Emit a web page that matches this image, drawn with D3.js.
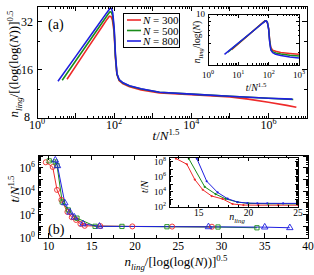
<!DOCTYPE html>
<meta charset="utf-8">
<head>
<script src="https://d3js.org/d3.v7.min.js"></script>
<style>
  body { margin: 0; background: #fff; }
  text { font-family: "Liberation Serif", "Times New Roman", serif; fill: #000; }
</style>
</head>
<body>
<script>
// ---- panel (a): n_ling/[log(log N)]^0.5 vs t/N^1.5
var tRed   = [6, 20, 50, 65, 75, 83, 90, 100, 108, 118, 135, 170, 250, 500, 1500, 1e4, 1e5, 3e5, 1e6, 3e6, 5.3e6];
var nRed   = [14.0, 21.7, 30.2, 33.2, 34.8, 34.6, 33.0, 27.5, 19.0, 15.0, 13.7, 13.1, 12.55, 12.0, 11.5, 11.2, 10.85, 10.5, 10.05, 9.6, 9.35];
var tGreen = [4.5, 10, 30, 60, 70, 78, 85, 92, 100, 108, 118, 135, 170, 250, 500, 1500, 1e4, 1e5, 1e6, 4.4e6];
var nGreen = [13.8, 18.2, 26.7, 34.0, 35.9, 37.1, 36.8, 34.8, 28.5, 19.5, 15.1, 13.85, 13.25, 12.7, 12.15, 11.6, 11.3, 10.95, 10.65, 10.45];
var tBlue  = [3.5, 10, 30, 60, 72, 80, 86, 92, 100, 108, 118, 135, 170, 250, 500, 1500, 1e4, 1e5, 1e6, 4.2e6];
var nBlue  = [13.6, 19.4, 28.2, 35.7, 37.9, 39.2, 38.8, 36.5, 29.5, 20.0, 15.2, 13.9, 13.3, 12.75, 12.2, 11.6, 11.3, 10.95, 10.65, 10.5];
var legendN = ["300", "500", "800"];

// inset (a): n_ling/log(N) vs t/N^1.5
var tInRed   = [6, 20, 50, 65, 75, 83, 90, 100, 108, 118, 135, 170, 250, 500, 1000];
var nInRed   = [3.24, 5.0, 7.0, 7.68, 8.05, 8.03, 7.63, 6.36, 4.4, 3.47, 3.2, 3.08, 2.97, 2.88, 2.8];
var tInGreen = [4.5, 10, 30, 60, 70, 78, 85, 92, 100, 108, 118, 135, 170, 250, 500, 1000];
var nInGreen = [3.0, 3.96, 5.8, 7.4, 7.8, 8.1, 8.0, 7.57, 6.2, 4.24, 3.3, 3.05, 2.93, 2.83, 2.72, 2.65];
var tInBlue  = [3.5, 10, 30, 60, 72, 80, 86, 92, 100, 108, 118, 135, 170, 250, 500, 1000];
var nInBlue  = [2.8, 4.0, 5.8, 7.35, 7.8, 8.1, 8.0, 7.5, 6.1, 4.1, 3.2, 2.95, 2.8, 2.7, 2.58, 2.5];

// ---- panel (b): t/N^1.5 vs n_ling/[log(log N)]^0.5
var xRedB   = [9.7, 10.5, 11.0, 11.5, 12.2, 12.7, 13.2, 13.7, 14.2, 16.0, 19.7, 24.3, 28.9];
var yRedB   = [3.0e6, 1.2e6, 1.3e4, 1.8e3, 170, 60, 35, 16, 11, 10.5, 9.8, 9.5, 9.2];
var xGreenB = [10.1, 10.8, 11.0, 11.6, 12.3, 13.3, 15.4, 18.5, 23.7, 29.6, 34.1];
var yGreenB = [4.0e6, 3.2e6, 1.6e6, 1.2e3, 250, 50, 10, 9.8, 9.2, 8.7, 7.5];
var xBlueB  = [10.8, 11.05, 11.9, 12.5, 13.0, 14.0, 15.9, 28.5, 35.0, 37.9];
var yBlueB  = [4.6e6, 1.5e6, 1.0e3, 160, 60, 16, 10, 9.0, 8.5, 7.5];

// inset (b): t/N vs n_ling
var xInRedB   = [12.7, 13.8, 14.6, 15.4, 16.3, 17.4, 18.4, 19.5, 21.0, 23.0, 25.0];
var yInRedB   = [2.5e8, 4.4e7, 4.2e5, 1.9e4, 2.8e3, 1.15e3, 250, 180, 175, 175, 175];
var xInGreenB = [14.0, 15.6, 16.7, 17.7, 18.9, 20.0, 22.0, 25.0];
var yInGreenB = [2.3e8, 4.6e4, 5.0e3, 1.2e3, 450, 300, 270, 260];
var xInBlueB  = [14.8, 15.8, 16.9, 17.9, 18.9, 19.9, 20.9, 21.9, 23.5, 25.0];
var yInBlueB  = [2.5e8, 2.5e5, 8.3e3, 1.25e3, 450, 330, 310, 305, 300, 300];

var red = "#ee2a2a", green = "#1a8c1a", blue = "#1f1fe0";

var svg = d3.select("body").append("svg").attr("width", 314).attr("height", 275);

// scales
var xa  = d3.scaleLog().domain([1, 1e7]).range([37, 307]);
var ya  = d3.scaleLog().base(2).domain([8, 40.3]).range([118, 6]);
var xai = d3.scaleLog().domain([1, 1000]).range([208, 299]);
var yai = d3.scaleLog().domain([2, 10]).range([65, 14]);
var xb  = d3.scaleLinear().domain([8.8, 40]).range([38, 308]);
var yb  = d3.scaleLog().domain([1, 1.26e7]).range([238, 155]);
var xbi = d3.scaleLinear().domain([12, 25]).range([169, 298]);
var ybi = d3.scaleLog().domain([100, 3.98e8]).range([207, 157]);

function logMinor(lo, hi) {
  var out = [];
  for (var k = Math.floor(Math.log10(lo)); k <= Math.ceil(Math.log10(hi)); k++)
    for (var m = 2; m <= 9; m++) {
      var v = m * Math.pow(10, k);
      if (v > lo && v < hi) out.push(v);
    }
  return out;
}
function decades(lo, hi) {
  var out = [];
  for (var k = Math.ceil(Math.log10(lo) - 1e-9); k <= Math.floor(Math.log10(hi) + 1e-9); k++) out.push(Math.pow(10, k));
  return out;
}

function box(g, x, y) {
  var r = x.range(), s = y.range();
  g.append("rect").attr("x", r[0]).attr("y", s[1]).attr("width", r[1] - r[0]).attr("height", s[0] - s[1])
    .attr("fill", "#fff").attr("stroke", "#000").attr("stroke-width", 1).attr("shape-rendering", "crispEdges");
}
function frame(g, x, y) {
  var r = x.range(), s = y.range();
  g.append("rect").attr("x", r[0]).attr("y", s[1]).attr("width", r[1] - r[0]).attr("height", s[0] - s[1])
    .attr("fill", "none").attr("stroke", "#000").attr("stroke-width", 1).attr("shape-rendering", "crispEdges");
}
function xTicks(g, x, y, vals, len) {
  var s = y.range();
  g.selectAll(null).data(vals).enter().append("path")
    .attr("d", function (d) { var p = x(d); return "M" + p + "," + s[0] + "v" + (-len) + "M" + p + "," + s[1] + "v" + len; })
    .attr("stroke", "#000").attr("stroke-width", 1).attr("shape-rendering", "crispEdges");
}
function yTicks(g, x, y, vals, len) {
  var r = x.range();
  g.selectAll(null).data(vals).enter().append("path")
    .attr("d", function (d) { var p = y(d); return "M" + r[0] + "," + p + "h" + len + "M" + r[1] + "," + p + "h" + (-len); })
    .attr("stroke", "#000").attr("stroke-width", 1).attr("shape-rendering", "crispEdges");
}

// text with italic / sub / sup parts
function rich(g, parts, size, anchor) {
  var t = g.append("text").attr("font-size", size).attr("text-anchor", anchor || "middle");
  var cur = 0;
  parts.forEach(function (p) {
    var off = p.sup ? -0.4 * size : (p.sub ? 0.3 * size : 0);
    t.append("tspan").attr("dy", off - cur)
      .attr("font-size", (p.sup || p.sub) ? size * 0.68 : size)
      .attr("font-style", p.i ? "italic" : null)
      .text(p.t);
    cur = off;
  });
  return t;
}
function pow10(g, x, y, e, size, anchor) {
  rich(g, [{ t: "10" }, { t: String(e), sup: true }], size, anchor).attr("x", x).attr("y", y);
}

function seriesLine(g, x, y, xs, ys, color, w) {
  var line = d3.line().x(function (d) { return x(d[0]); }).y(function (d) { return y(d[1]); });
  g.append("path").datum(d3.zip(xs, ys)).attr("d", line)
    .attr("fill", "none").attr("stroke", color).attr("stroke-width", w).attr("stroke-linejoin", "round");
}

// ================= panel (a)
var ga = svg.append("g");
[[tRed, nRed, red], [tGreen, nGreen, green], [tBlue, nBlue, blue]].forEach(function (s) {
  seriesLine(ga, xa, ya, s[0], s[1], s[2], 1.6);
});
frame(ga, xa, ya);
xTicks(ga, xa, ya, decades(1, 1e7), 5);
xTicks(ga, xa, ya, logMinor(1, 1e7), 2.5);
yTicks(ga, xa, ya, [8, 16, 32], 5);
yTicks(ga, xa, ya, [12, 24], 3);
[0, 2, 4, 6].forEach(function (e) { pow10(ga, xa(Math.pow(10, e)), 129, e, 12, "middle"); });
[8, 16, 32].forEach(function (v) {
  ga.append("text").attr("x", v === 8 ? 30 : 33).attr("y", ya(v) + (v === 8 ? 2.5 : 4)).attr("font-size", 12).attr("text-anchor", "end").text(v);
});
rich(ga, [{ t: "t", i: true }, { t: "/" }, { t: "N", i: true }, { t: "1.5", sup: true }], 13).attr("x", 166).attr("y", 140);
rich(ga.append("g").attr("transform", "translate(18,64) rotate(-90)"),
  [{ t: "n", i: true }, { t: "ling", sub: true, i: true }, { t: "/[(log(log(" }, { t: "N", i: true }, { t: "))]" }, { t: "0.5", sup: true }], 13);
ga.append("text").attr("x", 48).attr("y", 29).attr("font-size", 14).text("(a)");

// legend
var lg = ga.append("g");
lg.append("rect").attr("x", 123).attr("y", 13).attr("width", 56).attr("height", 34)
  .attr("fill", "#fff").attr("stroke", "#000").attr("shape-rendering", "crispEdges");
[red, green, blue].forEach(function (c, i) {
  var yy = 20 + i * 10.5;
  lg.append("line").attr("x1", 127).attr("x2", 141).attr("y1", yy).attr("y2", yy).attr("stroke", c).attr("stroke-width", 1.6);
  rich(lg, [{ t: "N", i: true }, { t: " = " + legendN[i] }], 11, "start").attr("x", 143).attr("y", yy + 4);
});

// inset (a)
var gai = svg.append("g");
box(gai, xai, yai);
[[tInRed, nInRed, red], [tInGreen, nInGreen, green], [tInBlue, nInBlue, blue]].forEach(function (s) {
  seriesLine(gai, xai, yai, s[0], s[1], s[2], 1.5);
});
frame(gai, xai, yai);
xTicks(gai, xai, yai, decades(1, 1000), 3.5);
xTicks(gai, xai, yai, logMinor(1, 1000), 2);
yTicks(gai, xai, yai, [4, 8], 3);
yTicks(gai, xai, yai, [3, 5, 6, 7, 9], 1.5);
[0, 1, 2, 3].forEach(function (e) { pow10(gai, xai(Math.pow(10, e)), 78, e, 9, "middle"); });
gai.append("text").attr("x", 205).attr("y", 17).attr("font-size", 9).attr("text-anchor", "end").text("10");
rich(gai, [{ t: "t", i: true }, { t: "/" }, { t: "N", i: true }, { t: "1.5", sup: true }], 10).attr("x", 256).attr("y", 91);
rich(gai.append("g").attr("transform", "translate(200,42) rotate(-90)"),
  [{ t: "n", i: true }, { t: "ling", sub: true, i: true }, { t: "/log(" }, { t: "N", i: true }, { t: ")" }], 9.5);

// ================= panel (b)
var gb = svg.append("g");
var markB = [
  [xRedB, yRedB, red, "circle"],
  [xGreenB, yGreenB, green, "square"],
  [xBlueB, yBlueB, blue, "triangle"]
];
markB.forEach(function (s) { seriesLine(gb, xb, yb, s[0], s[1], s[2], 1); });
markB.forEach(function (s) {
  var pts = d3.zip(s[0], s[1]);
  var sym = s[3] === "circle" ? d3.symbolCircle : s[3] === "square" ? d3.symbolSquare : d3.symbolTriangle;
  var size = s[3] === "circle" ? 20 : s[3] === "square" ? 18 : 18;
  gb.selectAll(null).data(pts).enter().append("path")
    .attr("d", d3.symbol().type(sym).size(size))
    .attr("transform", function (d) { return "translate(" + xb(d[0]) + "," + yb(d[1]) + ")"; })
    .attr("fill", "none").attr("stroke", s[2]).attr("stroke-width", 0.9);
});
frame(gb, xb, yb);
xTicks(gb, xb, yb, d3.range(10, 40.1, 5), 5);
xTicks(gb, xb, yb, d3.range(12.5, 40, 5), 3);
yTicks(gb, xb, yb, decades(1, 1.26e7), 5);
yTicks(gb, xb, yb, logMinor(1, 1.26e7), 2.5);
d3.range(10, 40.1, 5).forEach(function (v) {
  gb.append("text").attr("x", xb(v)).attr("y", 250).attr("font-size", 11.5).attr("text-anchor", "middle").text(v);
});
[0, 2, 4, 6].forEach(function (e) { pow10(gb, 35, yb(Math.pow(10, e)) + 4, e, 11.5, "end"); });
rich(gb, [{ t: "n", i: true }, { t: "ling", sub: true, i: true }, { t: "/[log(log(" }, { t: "N", i: true }, { t: "))]" }, { t: "0.5", sup: true }], 13)
  .attr("x", 176).attr("y", 266);
rich(gb.append("g").attr("transform", "translate(19,189) rotate(-90)"),
  [{ t: "t", i: true }, { t: "/" }, { t: "N", i: true }, { t: "1.5", sup: true }], 13);
gb.append("text").attr("x", 48).attr("y", 234).attr("font-size", 14).text("(b)");

// inset (b)
var gbi = svg.append("g");
box(gbi, xbi, ybi);
var markBi = [[xInRedB, yInRedB, red], [xInGreenB, yInGreenB, green], [xInBlueB, yInBlueB, blue]];
markBi.forEach(function (s) { seriesLine(gbi, xbi, ybi, s[0], s[1], s[2], 1); });
markBi.forEach(function (s) {
  gbi.selectAll(null).data(d3.zip(s[0], s[1])).enter().append("circle")
    .attr("cx", function (d) { return xbi(d[0]); }).attr("cy", function (d) { return ybi(d[1]); })
    .attr("r", 1.1).attr("fill", s[2]);
});
frame(gbi, xbi, ybi);
xTicks(gbi, xbi, ybi, [15, 20, 25], 3.5);
xTicks(gbi, xbi, ybi, [13, 14, 16, 17, 18, 19, 21, 22, 23, 24], 2);
yTicks(gbi, xbi, ybi, decades(100, 3.98e8), 3.5);
yTicks(gbi, xbi, ybi, logMinor(100, 3.98e8), 2);
[15, 20, 25].forEach(function (v) {
  gbi.append("text").attr("x", xbi(v)).attr("y", 216).attr("font-size", 9.5).attr("text-anchor", "middle").text(v);
});
[2, 4, 6, 8].forEach(function (e) { pow10(gbi, 166, ybi(Math.pow(10, e)) + 3, e, 9, "end"); });
rich(gbi, [{ t: "n", i: true }, { t: "ling", sub: true, i: true }], 10).attr("x", 237).attr("y", 220);
rich(gbi.append("g").attr("transform", "translate(148,187) rotate(-90)"),
  [{ t: "t", i: true }, { t: "/" }, { t: "N", i: true }], 10);
</script>
</body>
